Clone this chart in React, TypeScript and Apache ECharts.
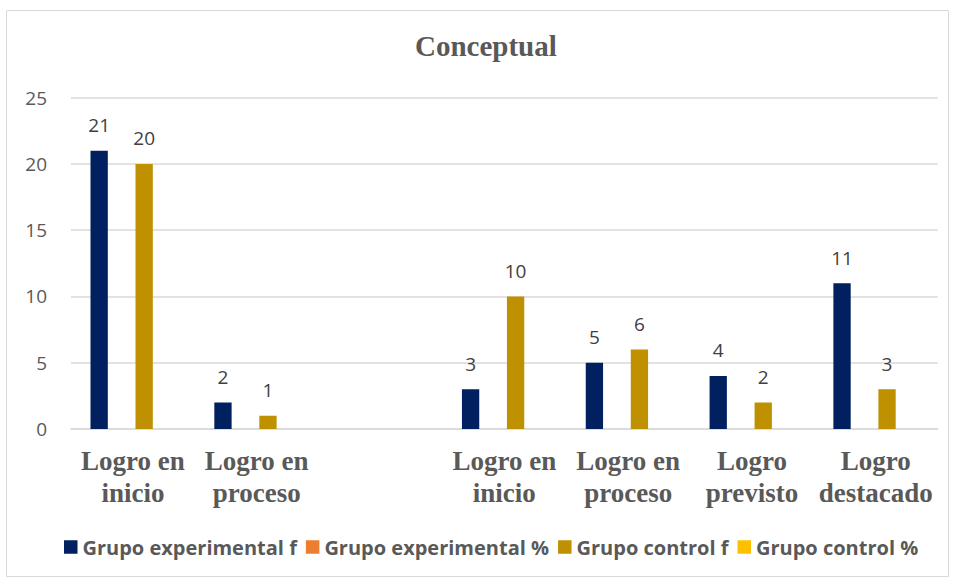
import React, { useEffect, useRef } from "react";
import * as echarts from "echarts";

const categories = [
  "Logro en\ninicio",
  "Logro en\nproceso",
  "",
  "Logro en\ninicio",
  "Logro en\nproceso",
  "Logro\nprevisto",
  "Logro\ndestacado",
];
const seriesNames = [
  "Grupo experimental f",
  "Grupo experimental %",
  "Grupo control f",
  "Grupo control %",
];
const experimentalF = [21, 2, "-", 3, 5, 4, 11];
const experimentalPct = ["-", "-", "-", "-", "-", "-", "-"];
const controlF = [20, 1, "-", 10, 6, 2, 3];
const controlPct = ["-", "-", "-", "-", "-", "-", "-"];
const yTicks = { min: 0, max: 25, interval: 5 };
const colors = ["#002060", "#ED7D31", "#BF9000", "#FFC000"];

export default function App() {
  const ref = useRef<HTMLDivElement>(null);
  useEffect(() => {
    document.body.style.margin = "0";
    const chart = echarts.init(ref.current!, null, { renderer: "svg" });
    const values = [experimentalF, experimentalPct, controlF, controlPct];
    chart.setOption({
      animation: false,
      backgroundColor: "#ffffff",
      color: colors,
      title: {
        text: "Conceptual",
        left: 415,
        top: 31,
        padding: 0,
        textStyle: {
          fontFamily: "Liberation Serif",
          fontWeight: "bold",
          fontSize: 29,
          color: "#595959",
        },
      },
      graphic: [
        {
          type: "rect",
          shape: { x: 6.5, y: 10.5, width: 942, height: 566 },
          style: { fill: "none", stroke: "#d9d9d9", lineWidth: 1 },
          silent: true,
        },
      ],
      legend: {
        left: 64,
        top: 537,
        itemWidth: 13.5,
        itemHeight: 13.5,
        itemGap: 9,
        padding: 0,
        icon: "rect",
        data: seriesNames,
        textStyle: {
          fontFamily: "Open Sans",
          fontWeight: "bold",
          fontSize: 20,
          color: "#595959",
        },
      },
      grid: { left: 71, right: 15.3, top: 97.7, bottom: 151 },
      xAxis: {
        type: "category",
        data: categories,
        axisTick: { show: false },
        axisLine: { lineStyle: { color: "#d9d9d9", width: 1.5 } },
        axisLabel: {
          interval: 0,
          margin: 16,
          fontFamily: "Liberation Serif",
          fontWeight: "bold",
          fontSize: 27,
          lineHeight: 32,
          color: "#595959",
        },
      },
      yAxis: {
        type: "value",
        min: yTicks.min,
        max: yTicks.max,
        interval: yTicks.interval,
        axisLine: { show: false },
        axisTick: { show: false },
        splitLine: { lineStyle: { color: "#d9d9d9", width: 1.5 } },
        axisLabel: {
          margin: 24,
          fontFamily: "Open Sans",
          fontSize: 19,
          color: "#595959",
        },
      },
      series: seriesNames.map((name, i) => ({
        name,
        type: "bar",
        data: values[i],
        barGap: "30%",
        barCategoryGap: "31.5%",
        itemStyle: { color: colors[i] },
        label: {
          show: true,
          position: "top",
          distance: 16,
          fontFamily: "Open Sans",
          fontSize: 19,
          color: "#404040",
        },
      })),
    });
    return () => chart.dispose();
  }, []);
  return <div ref={ref} style={{ width: 953, height: 580 }} />;
}
